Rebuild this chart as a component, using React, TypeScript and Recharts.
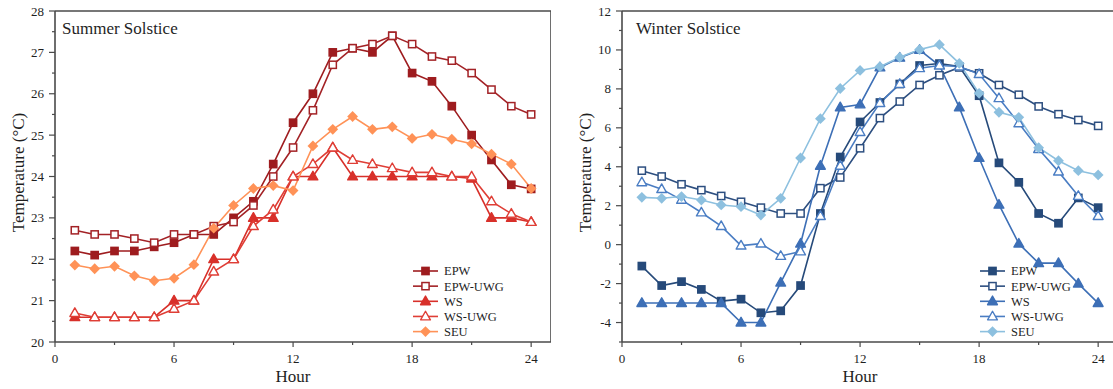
import { Label, Line, LineChart, ReferenceLine, XAxis, YAxis } from 'recharts'

const SERIF = '"Liberation Serif", "Times New Roman", serif'
const AXIS = '#4a4a4a'
const INK = '#1f1f1f'
const TEXT_STYLE = { fontFamily: SERIF }

const HOURS = [1, 2, 3, 4, 5, 6, 7, 8, 9, 10, 11, 12, 13, 14, 15, 16, 17, 18, 19, 20, 21, 22, 23, 24]

// Summer solstice (°C)
const SUMMER_EPW = [22.2, 22.1, 22.2, 22.2, 22.3, 22.4, 22.6, 22.6, 23.0, 23.4, 24.3, 25.3, 26.0, 27.0, 27.1, 27.0, 27.4, 26.5, 26.3, 25.7, 25.0, 24.4, 23.8, 23.7]
const SUMMER_EPW_UWG = [22.7, 22.6, 22.6, 22.5, 22.4, 22.6, 22.6, 22.8, 22.9, 23.3, 24.0, 24.7, 25.6, 26.7, 27.1, 27.2, 27.4, 27.2, 26.9, 26.8, 26.5, 26.1, 25.7, 25.5]
const SUMMER_WS = [20.6, 20.6, 20.6, 20.6, 20.6, 21.0, 21.0, 22.0, 22.0, 23.0, 23.0, 24.0, 24.0, 24.7, 24.0, 24.0, 24.0, 24.0, 24.0, 24.0, 23.95, 23.0, 23.0, 22.9]
const SUMMER_WS_UWG = [20.7, 20.6, 20.6, 20.6, 20.6, 20.8, 21.0, 21.7, 22.0, 22.8, 23.2, 24.0, 24.3, 24.7, 24.4, 24.3, 24.2, 24.1, 24.1, 24.0, 24.0, 23.4, 23.1, 22.9]
const SUMMER_SEU = [21.86, 21.77, 21.83, 21.6, 21.48, 21.54, 21.87, 22.75, 23.3, 23.71, 23.78, 23.66, 24.74, 25.14, 25.45, 25.14, 25.2, 24.92, 25.02, 24.9, 24.79, 24.54, 24.3, 23.71]

// Winter solstice (°C)
const WINTER_EPW = [-1.1, -2.1, -1.9, -2.3, -2.9, -2.8, -3.5, -3.4, -2.1, 1.6, 4.5, 6.3, 7.3, 8.25, 9.2, 9.3, 9.15, 7.65, 4.2, 3.2, 1.6, 1.1, 2.4, 1.9]
const WINTER_EPW_UWG = [3.8, 3.5, 3.1, 2.8, 2.5, 2.2, 1.9, 1.6, 1.6, 2.9, 3.45, 4.95, 6.5, 7.35, 8.2, 8.7, 9.1, 8.8, 8.2, 7.7, 7.1, 6.7, 6.4, 6.1]
const WINTER_WS = [-3, -3, -3, -3, -3, -4, -4, -1.95, 0.05, 4.05, 7.05, 7.2, 9.1, 9.6, 10.0, 9.2, 7.05, 4.45, 2.05, 0.05, -0.95, -0.95, -2.0, -3.0]
const WINTER_WS_UWG = [3.2, 2.85, 2.3, 1.65, 0.95, -0.05, 0.05, -0.58, -0.35, 1.47, 4.05, 5.78, 7.27, 8.25, 9.06, 9.2, 9.15, 8.76, 7.52, 6.23, 4.91, 3.75, 2.5, 1.47]
const WINTER_SEU = [2.43, 2.38, 2.47, 2.29, 2.04, 1.95, 1.52, 2.38, 4.45, 6.47, 8.02, 8.95, 9.14, 9.62, 10.02, 10.27, 9.31, 7.77, 6.8, 6.54, 4.98, 4.31, 3.8, 3.58]

const SERIES = ['EPW', 'EPW-UWG', 'WS', 'WS-UWG', 'SEU']
const MARKERS = ['square', 'square', 'triangle', 'triangle', 'diamond']
const OPEN = [false, true, false, true, false]
const SUMMER_COLORS = ['#9E1C1F', '#A32226', '#D8302A', '#DF3E36', '#FF9257']
const WINTER_COLORS = ['#264A7A', '#2D4F80', '#3D6FB6', '#4A7DC3', '#8DC0DF']

const X_TICKS = [0, 3, 6, 9, 12, 15, 18, 21, 24]
const X_LABELED = [0, 6, 12, 18, 24]
const SUMMER_Y_TICKS = [20, 20.5, 21, 21.5, 22, 22.5, 23, 23.5, 24, 24.5, 25, 25.5, 26, 26.5, 27, 27.5, 28]
const SUMMER_Y_LABELED = [20, 21, 22, 23, 24, 25, 26, 27, 28]
const WINTER_Y_TICKS = [-5, -4, -3, -2, -1, 0, 1, 2, 3, 4, 5, 6, 7, 8, 9, 10, 11, 12]
const WINTER_Y_LABELED = [-4, -2, 0, 2, 4, 6, 8, 10, 12]

function Marker({ shape, cx, cy, color, open }: any) {
  const fill = open ? '#fff' : color
  if (shape === 'square')
    return <rect x={cx - 3.6} y={cy - 3.6} width={7.2} height={7.2} fill={fill} stroke={color} strokeWidth={1.5} />
  if (shape === 'triangle')
    return (
      <polygon
        points={`${cx},${cy - 5.2} ${cx + 4.9},${cy + 3.4} ${cx - 4.9},${cy + 3.4}`}
        fill={fill}
        stroke={color}
        strokeWidth={1.4}
        strokeLinejoin="round"
      />
    )
  return <polygon points={`${cx},${cy - 5.4} ${cx + 5.4},${cy} ${cx},${cy + 5.4} ${cx - 5.4},${cy}`} fill={fill} />
}

function YTick({ x, y, payload, labeled }: any) {
  const major = labeled.includes(payload.value)
  return (
    <g>
      <line x1={x - (major ? 6 : 3)} x2={x} y1={y} y2={y} stroke={AXIS} strokeWidth={1.2} />
      {major && (
        <text x={x - 11} y={y} dy="0.35em" textAnchor="end" style={TEXT_STYLE} fontSize={13} fill={INK}>
          {payload.value}
        </text>
      )}
    </g>
  )
}

function XTick({ x, y, payload }: any) {
  const major = X_LABELED.includes(payload.value)
  return (
    <g>
      <line x1={x} x2={x} y1={y} y2={y + (major ? 5 : 3)} stroke={AXIS} strokeWidth={1.2} />
      {major && (
        <text x={x} y={y + 21} textAnchor="middle" style={TEXT_STYLE} fontSize={13} fill={INK}>
          {payload.value}
        </text>
      )}
    </g>
  )
}

function Panel({
  title,
  series,
  colors,
  yDomain,
  yTicks,
  yLabeled,
  yWidth,
  width,
  left,
  titleLeft,
  yTitleX,
  legendLeft,
}: any) {
  const data = HOURS.map((h, i) => {
    const row: any = { hour: h }
    SERIES.forEach((s, k) => (row[s] = series[k][i]))
    return row
  })
  return (
    <div style={{ position: 'absolute', left, top: 0, width, height: 389, fontFamily: SERIF }}>
      <LineChart width={width} height={389} data={data} margin={{ top: 11, right: 0, left: 0, bottom: 0 }}>
        <XAxis
          dataKey="hour"
          type="number"
          domain={[0, 25]}
          ticks={X_TICKS}
          interval={0}
          height={47}
          tickSize={0}
          tickMargin={0}
          tickLine={false}
          axisLine={{ stroke: AXIS, strokeWidth: 1.6 }}
          tick={<XTick />}
        >
          <Label
            content={({ viewBox }: any) => (
              <text
                x={viewBox.x + (viewBox.width * 24) / 25 / 2}
                y={viewBox.y + 40}
                textAnchor="middle"
                style={TEXT_STYLE}
                fontSize={17}
                fill={INK}
              >
                Hour
              </text>
            )}
          />
        </XAxis>
        <YAxis
          type="number"
          domain={yDomain}
          ticks={yTicks}
          interval={0}
          width={yWidth}
          tickSize={0}
          tickMargin={0}
          tickLine={false}
          axisLine={{ stroke: AXIS, strokeWidth: 1.6 }}
          tick={<YTick labeled={yLabeled} />}
        >
          <Label
            content={({ viewBox }: any) => {
              const cx = yTitleX
              const cy = viewBox.y + viewBox.height / 2 - 4
              return (
                <text
                  x={cx}
                  y={cy}
                  transform={`rotate(-90, ${cx}, ${cy})`}
                  textAnchor="middle"
                  dy="0.35em"
                  style={TEXT_STYLE}
                  fontSize={17}
                  fill={INK}
                >
                  Temperature (°C)
                </text>
              )
            }}
          />
        </YAxis>
        <ReferenceLine y={yDomain[1]} stroke={AXIS} strokeWidth={1.6} />
        <ReferenceLine x={25} stroke={AXIS} strokeWidth={1.6} />
        {SERIES.map((s, k) => (
          <Line
            key={s}
            dataKey={s}
            type="linear"
            stroke={colors[k]}
            strokeWidth={1.6}
            isAnimationActive={false}
            activeDot={false}
            dot={(p: any) => (
              <Marker key={`${s}-${p.index}`} shape={MARKERS[k]} open={OPEN[k]} color={colors[k]} cx={p.cx} cy={p.cy} />
            )}
          />
        ))}
      </LineChart>
      <div
        style={{
          position: 'absolute',
          left: titleLeft,
          top: 20,
          fontFamily: SERIF,
          fontSize: 17,
          lineHeight: '17px',
          color: INK,
          whiteSpace: 'nowrap',
        }}
      >
        {title}
      </div>
      <svg style={{ position: 'absolute', left: legendLeft, top: 262 }} width={130} height={80}>
        {SERIES.map((s, k) => {
          const cy = 9 + k * 15.15
          return (
            <g key={s}>
              <line x1={0} x2={25} y1={cy} y2={cy} stroke={colors[k]} strokeWidth={1.6} />
              <Marker shape={MARKERS[k]} open={OPEN[k]} color={colors[k]} cx={12.5} cy={cy} />
              <text x={31} y={cy} dy="0.35em" style={TEXT_STYLE} fontSize={12.5} fill={INK}>
                {s}
              </text>
            </g>
          )
        })}
      </svg>
    </div>
  )
}

export default function App() {
  return (
    <div
      style={{ position: 'fixed', left: 0, top: 0, width: 1113, height: 389, overflow: 'hidden', background: '#fff' }}
    >
      <Panel
        title="Summer Solstice"
        series={[SUMMER_EPW, SUMMER_EPW_UWG, SUMMER_WS, SUMMER_WS_UWG, SUMMER_SEU]}
        colors={SUMMER_COLORS}
        yDomain={[20, 28]}
        yTicks={SUMMER_Y_TICKS}
        yLabeled={SUMMER_Y_LABELED}
        yWidth={55}
        width={551}
        left={0}
        titleLeft={62}
        yTitleX={18.5}
        legendLeft={413}
      />
      <Panel
        title="Winter Solstice"
        series={[WINTER_EPW, WINTER_EPW_UWG, WINTER_WS, WINTER_WS_UWG, WINTER_SEU]}
        colors={WINTER_COLORS}
        yDomain={[-5, 12]}
        yTicks={WINTER_Y_TICKS}
        yLabeled={WINTER_Y_LABELED}
        yWidth={62}
        width={558}
        left={560}
        titleLeft={76}
        yTitleX={25}
        legendLeft={420}
      />
    </div>
  )
}
